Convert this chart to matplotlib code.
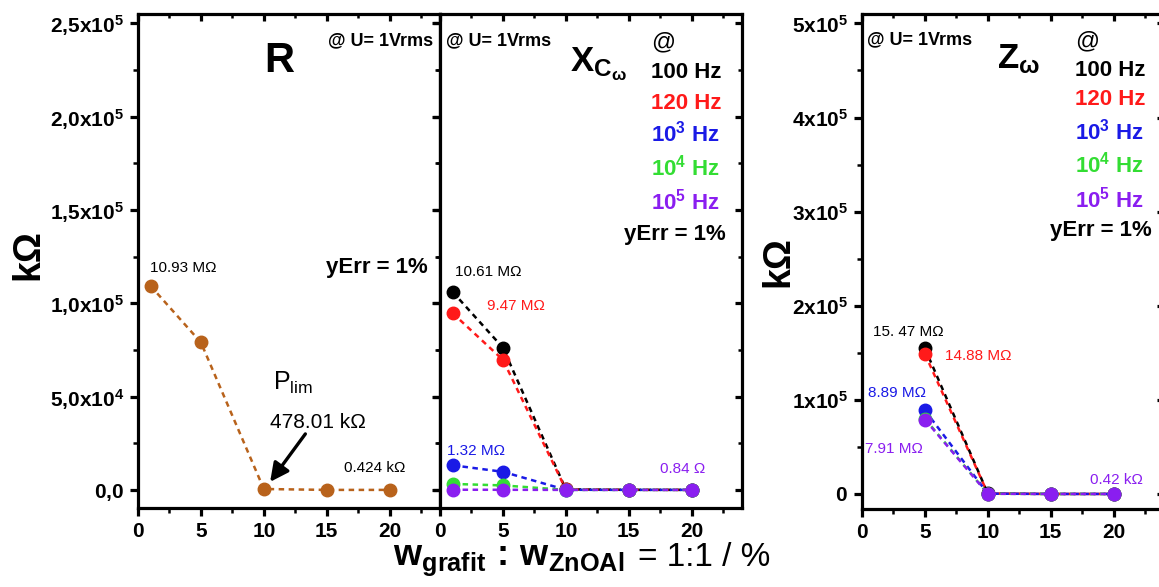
import matplotlib
matplotlib.use('Agg')
import matplotlib.pyplot as plt
from matplotlib.ticker import MultipleLocator

plt.rcParams['font.family'] = ['Liberation Sans', 'DejaVu Sans']
plt.rcParams['mathtext.fontset'] = 'custom'
plt.rcParams['mathtext.rm'] = 'Liberation Sans'
plt.rcParams['mathtext.bf'] = 'Liberation Sans:bold'
plt.rcParams['mathtext.it'] = 'Liberation Sans:italic'

# data (kOhm) vs graphite content / %
ratio = [1, 5, 10, 15, 20]
r_vals = [1.093e5, 7.9e4, 478.01, 0.45, 0.424]

xc_100 = [1.061e5, 7.62e4, 300, 40, 20]
xc_120 = [9.47e4, 6.97e4, 250, 30, 15]
xc_1k = [1.32e4, 9.7e3, 50, 8, 3]
xc_10k = [3.2e3, 2.4e3, 10, 2, 1]
xc_100k = [84, 60, 2, 1, 0.84]

ratio_z = [5, 10, 15, 20]
z_100 = [1.547e5, 480, 1.0, 0.5]
z_120 = [1.488e5, 450, 0.9, 0.45]
z_1k = [8.89e4, 300, 0.8, 0.44]
z_10k = [8.0e4, 200, 0.7, 0.43]
z_100k = [7.91e4, 150, 0.6, 0.42]

x_ticks = [0, 5, 10, 15, 20]
r_yticks = [0, 5e4, 1e5, 1.5e5, 2e5, 2.5e5]
r_ylabels = [r'$\mathbf{0{,}0}$', r'$\mathbf{5{,}0x10^4}$', r'$\mathbf{1{,}0x10^5}$',
             r'$\mathbf{1{,}5x10^5}$', r'$\mathbf{2{,}0x10^5}$', r'$\mathbf{2{,}5x10^5}$']
z_yticks = [0, 1e5, 2e5, 3e5, 4e5, 5e5]
z_ylabels = [r'$\mathbf{0}$', r'$\mathbf{1x10^5}$', r'$\mathbf{2x10^5}$',
             r'$\mathbf{3x10^5}$', r'$\mathbf{4x10^5}$', r'$\mathbf{5x10^5}$']

freq_labels = ['100 Hz', '120 Hz', r'$\mathbf{10^3}$ Hz', r'$\mathbf{10^4}$ Hz', r'$\mathbf{10^5}$ Hz']
colors = ['black', '#ff1a1a', '#1a1ae6', '#33dd33', '#8a1ef0']
brown = '#b8621b'

W, H = 1159, 587
fig = plt.figure(figsize=(W / 100, H / 100), dpi=100)

def box(l, r, t, b):
    return [l / W, 1 - b / H, (r - l) / W, (b - t) / H]

ax1 = fig.add_axes(box(138, 440, 14, 508))
ax2 = fig.add_axes(box(440, 742, 14, 508))
ax3 = fig.add_axes(box(862, 1164, 14, 509))

def style(ax, ymaj, ymin, ylim):
    ax.set_xlim(0, 24)
    ax.set_ylim(*ylim)
    ax.set_xticks(x_ticks)
    ax.set_xticklabels([str(t) for t in x_ticks], fontsize=15, fontweight='bold')
    ax.xaxis.set_minor_locator(MultipleLocator(2.5))
    ax.yaxis.set_minor_locator(MultipleLocator(ymin))
    for s in ax.spines.values():
        s.set_linewidth(2.3)
    ax.tick_params(which='major', direction='out', length=6, width=2.3, labelsize=15, pad=4)
    ax.tick_params(which='minor', direction='out', length=3.5, width=1.8)
    top = ax.secondary_xaxis('top')
    top.set_xticks(x_ticks)
    top.xaxis.set_minor_locator(MultipleLocator(2.5))
    top.tick_params(which='major', direction='in', length=5, width=2.3, labeltop=False)
    top.tick_params(which='minor', direction='in', length=3, width=1.8)
    right = ax.secondary_yaxis('right')
    right.set_yticks(ymaj)
    right.yaxis.set_minor_locator(MultipleLocator(ymin))
    right.tick_params(which='major', direction='in', length=5, width=2.3, labelright=False)
    right.tick_params(which='minor', direction='in', length=3, width=1.8)

line_kw = dict(ls=(0, (2.2, 1.8)), lw=1.8, marker='o', ms=9)

# --- R panel ---
style(ax1, r_yticks, 2.5e4, (-9.7e3, 2.55e5))
ax1.set_yticks(r_yticks)
ax1.set_yticklabels(r_ylabels)
ax1.plot(ratio, r_vals, color=brown, **line_kw)
ax1.text(0.95, 1.191e5, '10.93 M\u03a9', fontsize=11, va='center')
ax1.text(10.7, 5.36e4, r'P$_{\rm lim}$', fontsize=18, va='baseline')
ax1.text(10.5, 3.33e4, '478.01 k\u03a9', fontsize=15, va='baseline')
ax1.text(16.4, 9.7e3, '0.424 k\u03a9', fontsize=11, va='baseline')
ax1.annotate('', xy=(10.5, 4300), xytext=(13.3, 3.0e4),
             arrowprops=dict(arrowstyle='-|>', lw=2.4, color='black', mutation_scale=28,
                             shrinkA=0, shrinkB=0))
ax1.text(11.2, 2.24e5, 'R', fontsize=30, fontweight='bold', ha='center', va='baseline')
ax1.text(0.977, 0.964, '@ U= 1Vrms', transform=ax1.transAxes, fontsize=13,
         fontweight='bold', ha='right', va='top')
ax1.text(0.96, 0.476, 'yErr = 1%', transform=ax1.transAxes, fontsize=16,
         fontweight='bold', ha='right', va='baseline')

# --- Xc panel ---
style(ax2, r_yticks, 2.5e4, (-9.7e3, 2.55e5))
ax2.set_yticks(r_yticks)
ax2.set_yticklabels([])
for ys, c in zip([xc_100, xc_120, xc_1k, xc_10k, xc_100k], colors):
    ax2.plot(ratio, ys, color=c, **line_kw)
ax2.text(1.2, 1.148e5, '10.61 M\u03a9', fontsize=11, va='baseline', color=colors[0])
ax2.text(3.7, 9.66e4, '9.47 M\u03a9', fontsize=11, va='baseline', color=colors[1])
ax2.text(0.55, 1.88e4, '1.32 M\u03a9', fontsize=11, va='baseline', color=colors[2])
ax2.text(17.5, 9.1e3, '0.84 \u03a9', fontsize=11, va='baseline', color=colors[4])
ax2.text(0.02, 0.964, '@ U= 1Vrms', transform=ax2.transAxes, fontsize=13,
         fontweight='bold', ha='left', va='top')
ax2.text(0.43, 0.883, r'$\mathbf{X_{C_{\omega}}}$', transform=ax2.transAxes, fontsize=25,
         va='baseline')
leg_y2 = [0.870, 0.808, 0.741, 0.674, 0.605]
ax2.text(0.70, 0.931, '@', transform=ax2.transAxes, fontsize=17, va='baseline')
for lab, c, yy in zip(freq_labels, colors, leg_y2):
    ax2.text(0.70, yy, lab, transform=ax2.transAxes, fontsize=16, fontweight='bold',
             color=c, va='baseline')
ax2.text(0.945, 0.543, 'yErr = 1%', transform=ax2.transAxes, fontsize=16,
         fontweight='bold', ha='right', va='baseline')

# --- Z panel ---
style(ax3, z_yticks, 5e4, (-1.6e4, 5.1e5))
ax3.set_yticks(z_yticks)
ax3.set_yticklabels(z_ylabels)
for ys, c in zip([z_100, z_120, z_1k, z_10k, z_100k], colors):
    ax3.plot(ratio_z, ys, color=c, **line_kw)
ax3.text(0.87, 1.68e5, '15. 47 M\u03a9', fontsize=11, va='baseline', color=colors[0])
ax3.text(6.6, 1.425e5, '14.88 M\u03a9', fontsize=11, va='baseline', color=colors[1])
ax3.text(0.48, 1.03e5, '8.89 M\u03a9', fontsize=11, va='baseline', color=colors[2])
ax3.text(0.24, 4.36e4, '7.91 M\u03a9', fontsize=11, va='baseline', color=colors[4])
ax3.text(18.1, 1.06e4, '0.42 k\u03a9', fontsize=11, va='baseline', color=colors[4])
ax3.text(0.017, 0.966, '@ U= 1Vrms', transform=ax3.transAxes, fontsize=13,
         fontweight='bold', ha='left', va='top')
ax3.text(0.447, 0.891, r'$\mathbf{Z_{\omega}}$', transform=ax3.transAxes, fontsize=25,
         va='baseline')
leg_y3 = [0.875, 0.816, 0.747, 0.679, 0.610]
ax3.text(0.705, 0.933, '@', transform=ax3.transAxes, fontsize=17, va='baseline')
for lab, c, yy in zip(freq_labels, colors, leg_y3):
    ax3.text(0.705, yy, lab, transform=ax3.transAxes, fontsize=16, fontweight='bold',
             color=c, va='baseline')
ax3.text(0.960, 0.552, 'yErr = 1%', transform=ax3.transAxes, fontsize=16,
         fontweight='bold', ha='right', va='baseline')

# axis labels
fig.text(28 / W, 1 - 255 / H, 'k\u03a9', fontsize=27, fontweight='bold', rotation=90,
         ha='center', va='center')
fig.text(778 / W, 1 - 262 / H, 'k\u03a9', fontsize=27, fontweight='bold', rotation=90,
         ha='center', va='center')
fig.text(393 / W, 1 - 565 / H,
         r'$\mathbf{w}_{\mathbf{grafit}}\,\mathbf{:}\,\mathbf{w}_{\mathbf{ZnOAl}}$',
         fontsize=26, ha='left', va='baseline')
fig.text(638 / W, 1 - 566 / H, '= 1:1 / %', fontsize=24, ha='left', va='baseline')

fig.savefig('out.png', dpi=100)
